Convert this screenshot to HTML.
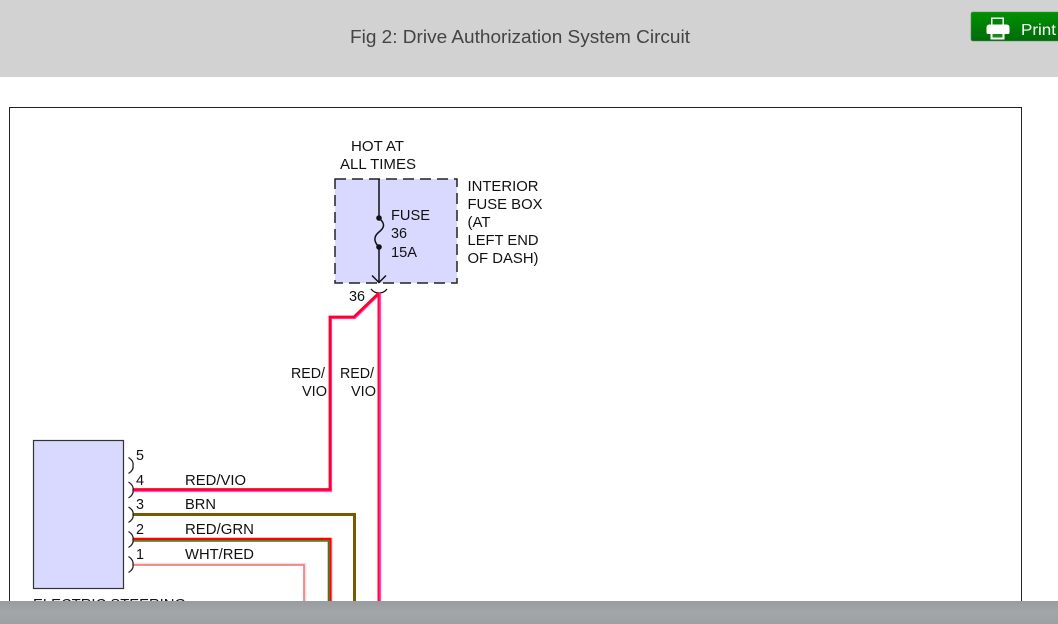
<!DOCTYPE html>
<html>
<head>
<meta charset="utf-8">
<style>
html,body{margin:0;padding:0;background:#fff;width:1058px;height:624px;overflow:hidden}
svg{display:block;position:absolute;left:0;top:0}
text{font-family:"Liberation Sans",sans-serif;font-size:14.5px;fill:#111}
</style>
</head>
<body>
<svg width="1058" height="624" viewBox="0 0 1058 624" xmlns="http://www.w3.org/2000/svg">
<defs>
<linearGradient id="g" x1="0" y1="0" x2="0" y2="1"><stop offset="0" stop-color="#009200"/><stop offset="1" stop-color="#006a0c"/></linearGradient>
<linearGradient id="b" x1="0" y1="0" x2="0" y2="1"><stop offset="0" stop-color="#989c9f"/><stop offset="0.5" stop-color="#a3a7a9"/><stop offset="1" stop-color="#9da1a4"/></linearGradient>
</defs>
<rect x="0" y="0" width="1058" height="77" fill="#d2d2d2"/>
<text x="350" y="43" textLength="340" lengthAdjust="spacingAndGlyphs" style="font-size:18.5px;fill:#444">Fig 2: Drive Authorization System Circuit</text>
<rect x="971" y="12" width="95" height="29" rx="2" fill="url(#g)" stroke="#5d8a5d" stroke-width="0.6"/>
<g fill="#fff">
<path d="M991 17.500h13v7.500h-1.500v-6h-10v6h-1.500z"/>
<path d="M989 24.500h17.500q3 0 3 3v5q0 1.500 -1.500 1.500h-20q-1.500 0 -1.500 -1.500v-5q0 -3 3 -3z"/>
<path d="M990.500 32h14v7.500h-14zM992.500 34.500v3h10v-3z"/>
</g>
<rect x="992.500" y="34" width="10" height="3.500" fill="#1a8a1a"/>
<text x="1021" y="35" textLength="35" lengthAdjust="spacingAndGlyphs" style="font-size:16px;fill:#fff">Print</text>

<rect x="9.500" y="107.500" width="1012" height="530" fill="#fff" stroke="#222" stroke-width="1"/>

<text x="351" y="151" textLength="53" lengthAdjust="spacingAndGlyphs">HOT AT</text>
<text x="340" y="169" textLength="76" lengthAdjust="spacingAndGlyphs">ALL TIMES</text>

<rect x="335" y="179" width="122" height="104" fill="#d9d9ff"/>
<rect x="335" y="179" width="122" height="104" fill="none" stroke="#222" stroke-width="1.500" stroke-dasharray="11 6"/>
<path d="M379 179V218C386 224 384 228 379 232C374 236 373 241 379 247V283" stroke="#111" stroke-width="1.500" fill="none"/>
<circle cx="379" cy="218" r="2.800" fill="#111"/>
<circle cx="379" cy="247" r="2.800" fill="#111"/>
<path d="M372 275.500L379 282.500L386 275.500" stroke="#111" stroke-width="1.500" fill="none"/>
<text x="391" y="220" textLength="39" lengthAdjust="spacingAndGlyphs">FUSE</text>
<text x="391" y="238" textLength="16" lengthAdjust="spacingAndGlyphs">36</text>
<text x="391" y="257" textLength="26" lengthAdjust="spacingAndGlyphs">15A</text>
<text x="467.500" y="191" textLength="71" lengthAdjust="spacingAndGlyphs">INTERIOR</text>
<text x="467.500" y="209" textLength="75" lengthAdjust="spacingAndGlyphs">FUSE BOX</text>
<text x="467.500" y="227" textLength="23" lengthAdjust="spacingAndGlyphs">(AT</text>
<text x="467.500" y="245" textLength="71" lengthAdjust="spacingAndGlyphs">LEFT END</text>
<text x="467.500" y="263" textLength="71" lengthAdjust="spacingAndGlyphs">OF DASH)</text>
<text x="349" y="301" textLength="16" lengthAdjust="spacingAndGlyphs">36</text>
<path d="M371 289Q374 293 379 293Q384 293 387 289" stroke="#111" stroke-width="1.300" fill="none"/>

<g fill="none" stroke-linejoin="miter">
<!-- RED/VIO branch -->
<path d="M380 293.500L355 318H331V491H133" stroke="#ff55cc" stroke-width="2.200"/>
<path d="M379 293L354 317H330V489.500H133" stroke="#ff0028" stroke-width="2.800"/>
<!-- RED/VIO main -->
<path d="M380.200 293V610" stroke="#ff40c8" stroke-width="2"/>
<path d="M378.500 293V610" stroke="#ff0a30" stroke-width="2"/>
<!-- BRN -->
<path d="M133 514.500H354.500V610" stroke="#7a5800" stroke-width="3"/>
<!-- RED/GRN -->
<path d="M133 541H328.500V610" stroke="#1a8a1a" stroke-width="1.600"/>
<path d="M133 539H330.500V610" stroke="#ff0000" stroke-width="2.400"/>
<path d="M332.300 538V610" stroke="#ffd0d0" stroke-width="1"/>
<!-- WHT/RED -->
<path d="M133 563.800H305.500V610" stroke="#e4e4e4" stroke-width="2"/>
<path d="M133 565H304V610" stroke="#ff6a6a" stroke-width="1.500"/>
</g>

<text x="291" y="378" textLength="34" lengthAdjust="spacingAndGlyphs">RED/</text>
<text x="302" y="396" textLength="25" lengthAdjust="spacingAndGlyphs">VIO</text>
<text x="340" y="378" textLength="34" lengthAdjust="spacingAndGlyphs">RED/</text>
<text x="351" y="396" textLength="25" lengthAdjust="spacingAndGlyphs">VIO</text>

<rect x="33.500" y="440.500" width="90" height="148" fill="#d9d9ff" stroke="#333" stroke-width="1.200"/>

<g stroke="#222" stroke-width="1.300" fill="none">
<path d="M128.500 457.500Q134 461 133 465.500Q134 470 128.500 473.500"/>
<path d="M128.500 482Q134 485.500 133 490Q134 494.500 128.500 498"/>
<path d="M128.500 507Q134 510.500 133 514.500Q134 519 128.500 522.500"/>
<path d="M128.500 531.500Q134 535 133 539.500Q134 544 128.500 547.500"/>
<path d="M128.500 556.500Q134 560 133 565Q134 569 128.500 572.500"/>
</g>
<text x="136" y="460" textLength="8" lengthAdjust="spacingAndGlyphs">5</text>
<text x="136" y="485" textLength="8" lengthAdjust="spacingAndGlyphs">4</text>
<text x="136" y="509" textLength="8" lengthAdjust="spacingAndGlyphs">3</text>
<text x="136" y="534" textLength="8" lengthAdjust="spacingAndGlyphs">2</text>
<text x="136" y="559" textLength="8" lengthAdjust="spacingAndGlyphs">1</text>
<text x="185" y="485" textLength="61" lengthAdjust="spacingAndGlyphs">RED/VIO</text>
<text x="185" y="509" textLength="31" lengthAdjust="spacingAndGlyphs">BRN</text>
<text x="185" y="534" textLength="69" lengthAdjust="spacingAndGlyphs">RED/GRN</text>
<text x="185" y="559" textLength="69" lengthAdjust="spacingAndGlyphs">WHT/RED</text>
<text x="33" y="609" textLength="153" lengthAdjust="spacingAndGlyphs">ELECTRIC STEERING</text>

<rect x="0" y="601" width="1058" height="23" fill="url(#b)"/>
</svg>
</body>
</html>
